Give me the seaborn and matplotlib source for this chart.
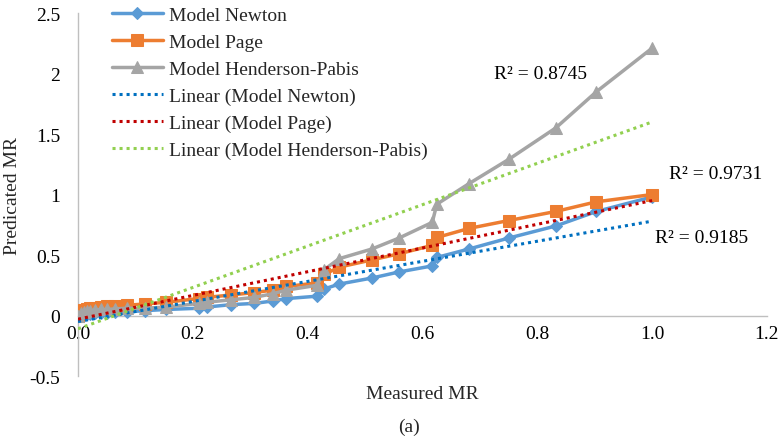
import numpy as np
import matplotlib
matplotlib.use("Agg")
import matplotlib.pyplot as plt
import seaborn as sns

# ------------------------------------------------------------
# data
# ------------------------------------------------------------
measured_mr = [0.0, 0.005, 0.01, 0.015, 0.02, 0.03, 0.04, 0.05, 0.065, 0.085,
               0.116, 0.154, 0.21, 0.224, 0.267, 0.307, 0.339, 0.363, 0.417, 0.429,
               0.455, 0.512, 0.559, 0.617, 0.625, 0.681, 0.75, 0.832, 0.903, 1.0]

newton = [0.0, 0.005, 0.01, 0.012, 0.015, 0.018, 0.02, 0.022, 0.025, 0.03,
          0.04, 0.05, 0.06, 0.07, 0.09, 0.10, 0.12, 0.14, 0.16, 0.22,
          0.26, 0.31, 0.36, 0.41, 0.48, 0.55, 0.64, 0.74, 0.86, 0.98]

page = [0.0, 0.03, 0.045, 0.055, 0.06, 0.065, 0.07, 0.075, 0.08, 0.085,
        0.095, 0.11, 0.14, 0.15, 0.17, 0.19, 0.21, 0.24, 0.27, 0.34,
        0.40, 0.46, 0.51, 0.58, 0.645, 0.72, 0.785, 0.86, 0.94, 1.0]

henderson = [0.0, 0.02, 0.03, 0.035, 0.04, 0.045, 0.05, 0.05, 0.055, 0.06,
             0.06, 0.07, 0.10, 0.11, 0.13, 0.15, 0.18, 0.21, 0.25, 0.38,
             0.47, 0.55, 0.64, 0.77, 0.92, 1.09, 1.29, 1.55, 1.85, 2.21]

series_names = ["Model Newton", "Model Page", "Model Henderson-Pabis"]
series_values = [newton, page, henderson]
series_colors = ["#5B9BD5", "#ED7D31", "#A5A5A5"]
series_markers = ["D", "s", "^"]
marker_sizes = [6, 8, 8]

# linear trend lines (slope, intercept) as drawn in the reference
trend_slopes = [0.83, 0.98, 1.71]
trend_intercepts = [-0.05, -0.03, -0.11]
trend_colors = ["#0070C0", "#C00000", "#92D050"]

r2_labels = ["R² = 0.9185", "R² = 0.9731", "R² = 0.8745"]
r2_pos = [(1.005, 0.645), (1.03, 1.17), (0.725, 2.0)]

x_ticks = [0.0, 0.2, 0.4, 0.6, 0.8, 1.0, 1.2]
y_ticks = [-0.5, 0, 0.5, 1, 1.5, 2, 2.5]
y_tick_labels = ["-0.5", "0", "0.5", "1", "1.5", "2", "2.5"]

# ------------------------------------------------------------
# plot
# ------------------------------------------------------------
sns.set_theme(style="white")
plt.rcParams["font.family"] = ["Liberation Serif", "DejaVu Serif"]

fig = plt.figure(figsize=(7.78, 4.39), dpi=100)
ax = fig.add_axes([0.1003, 0.1412, 0.8855, 0.8268])

for name, vals, col, mk, ms in zip(series_names, series_values, series_colors,
                                   series_markers, marker_sizes):
    sns.lineplot(x=measured_mr, y=vals, ax=ax, color=col, marker=mk,
                 markersize=ms, markeredgecolor=col, linewidth=2.5,
                 label=name, zorder=3)

# trend lines span the measured range, like Excel's linear trendline
x_span = np.array([min(measured_mr), max(measured_mr)])
for name, m, b, col in zip(series_names, trend_slopes, trend_intercepts, trend_colors):
    sns.lineplot(x=x_span, y=m * x_span + b, ax=ax, color=col,
                 linestyle=(0, (1, 1.3)), linewidth=2.2,
                 label=f"Linear ({name})", zorder=4)

for txt, (tx, ty) in zip(r2_labels, r2_pos):
    ax.text(tx, ty, txt, fontsize=14, ha="left", va="center", color="black")

ax.set_xlim(0, 1.2)
ax.set_ylim(-0.5, 2.5)
ax.set_xticks(x_ticks)
ax.set_xticklabels([f"{t:.1f}" for t in x_ticks])
ax.set_yticks(y_ticks)
ax.set_yticklabels(y_tick_labels)

ax.spines["top"].set_visible(False)
ax.spines["right"].set_visible(False)
ax.spines["bottom"].set_position(("data", 0))
for s in ["left", "bottom"]:
    ax.spines[s].set_color("#BFBFBF")
    ax.spines[s].set_linewidth(1.0)
ax.tick_params(axis="both", which="major", labelsize=14, colors="black",
               length=5, width=1.0, direction="out", color="#BFBFBF")
ax.tick_params(axis="x", pad=2)
ax.tick_params(axis="y", pad=8)

ax.set_xlabel("Measured MR", fontsize=14)
ax.set_ylabel("Predicated MR", fontsize=14, labelpad=6)
ax.xaxis.set_label_coords(0.5, -0.025)

leg = ax.legend(loc="upper left", bbox_to_anchor=(0.038, 1.04), frameon=False,
                fontsize=14, handlelength=2.6, labelspacing=0.48,
                handletextpad=0.35, borderaxespad=0)

fig.text(0.526, 0.027, "(a)", ha="center", va="center", fontsize=14)

fig.savefig("out.png", dpi=100)
